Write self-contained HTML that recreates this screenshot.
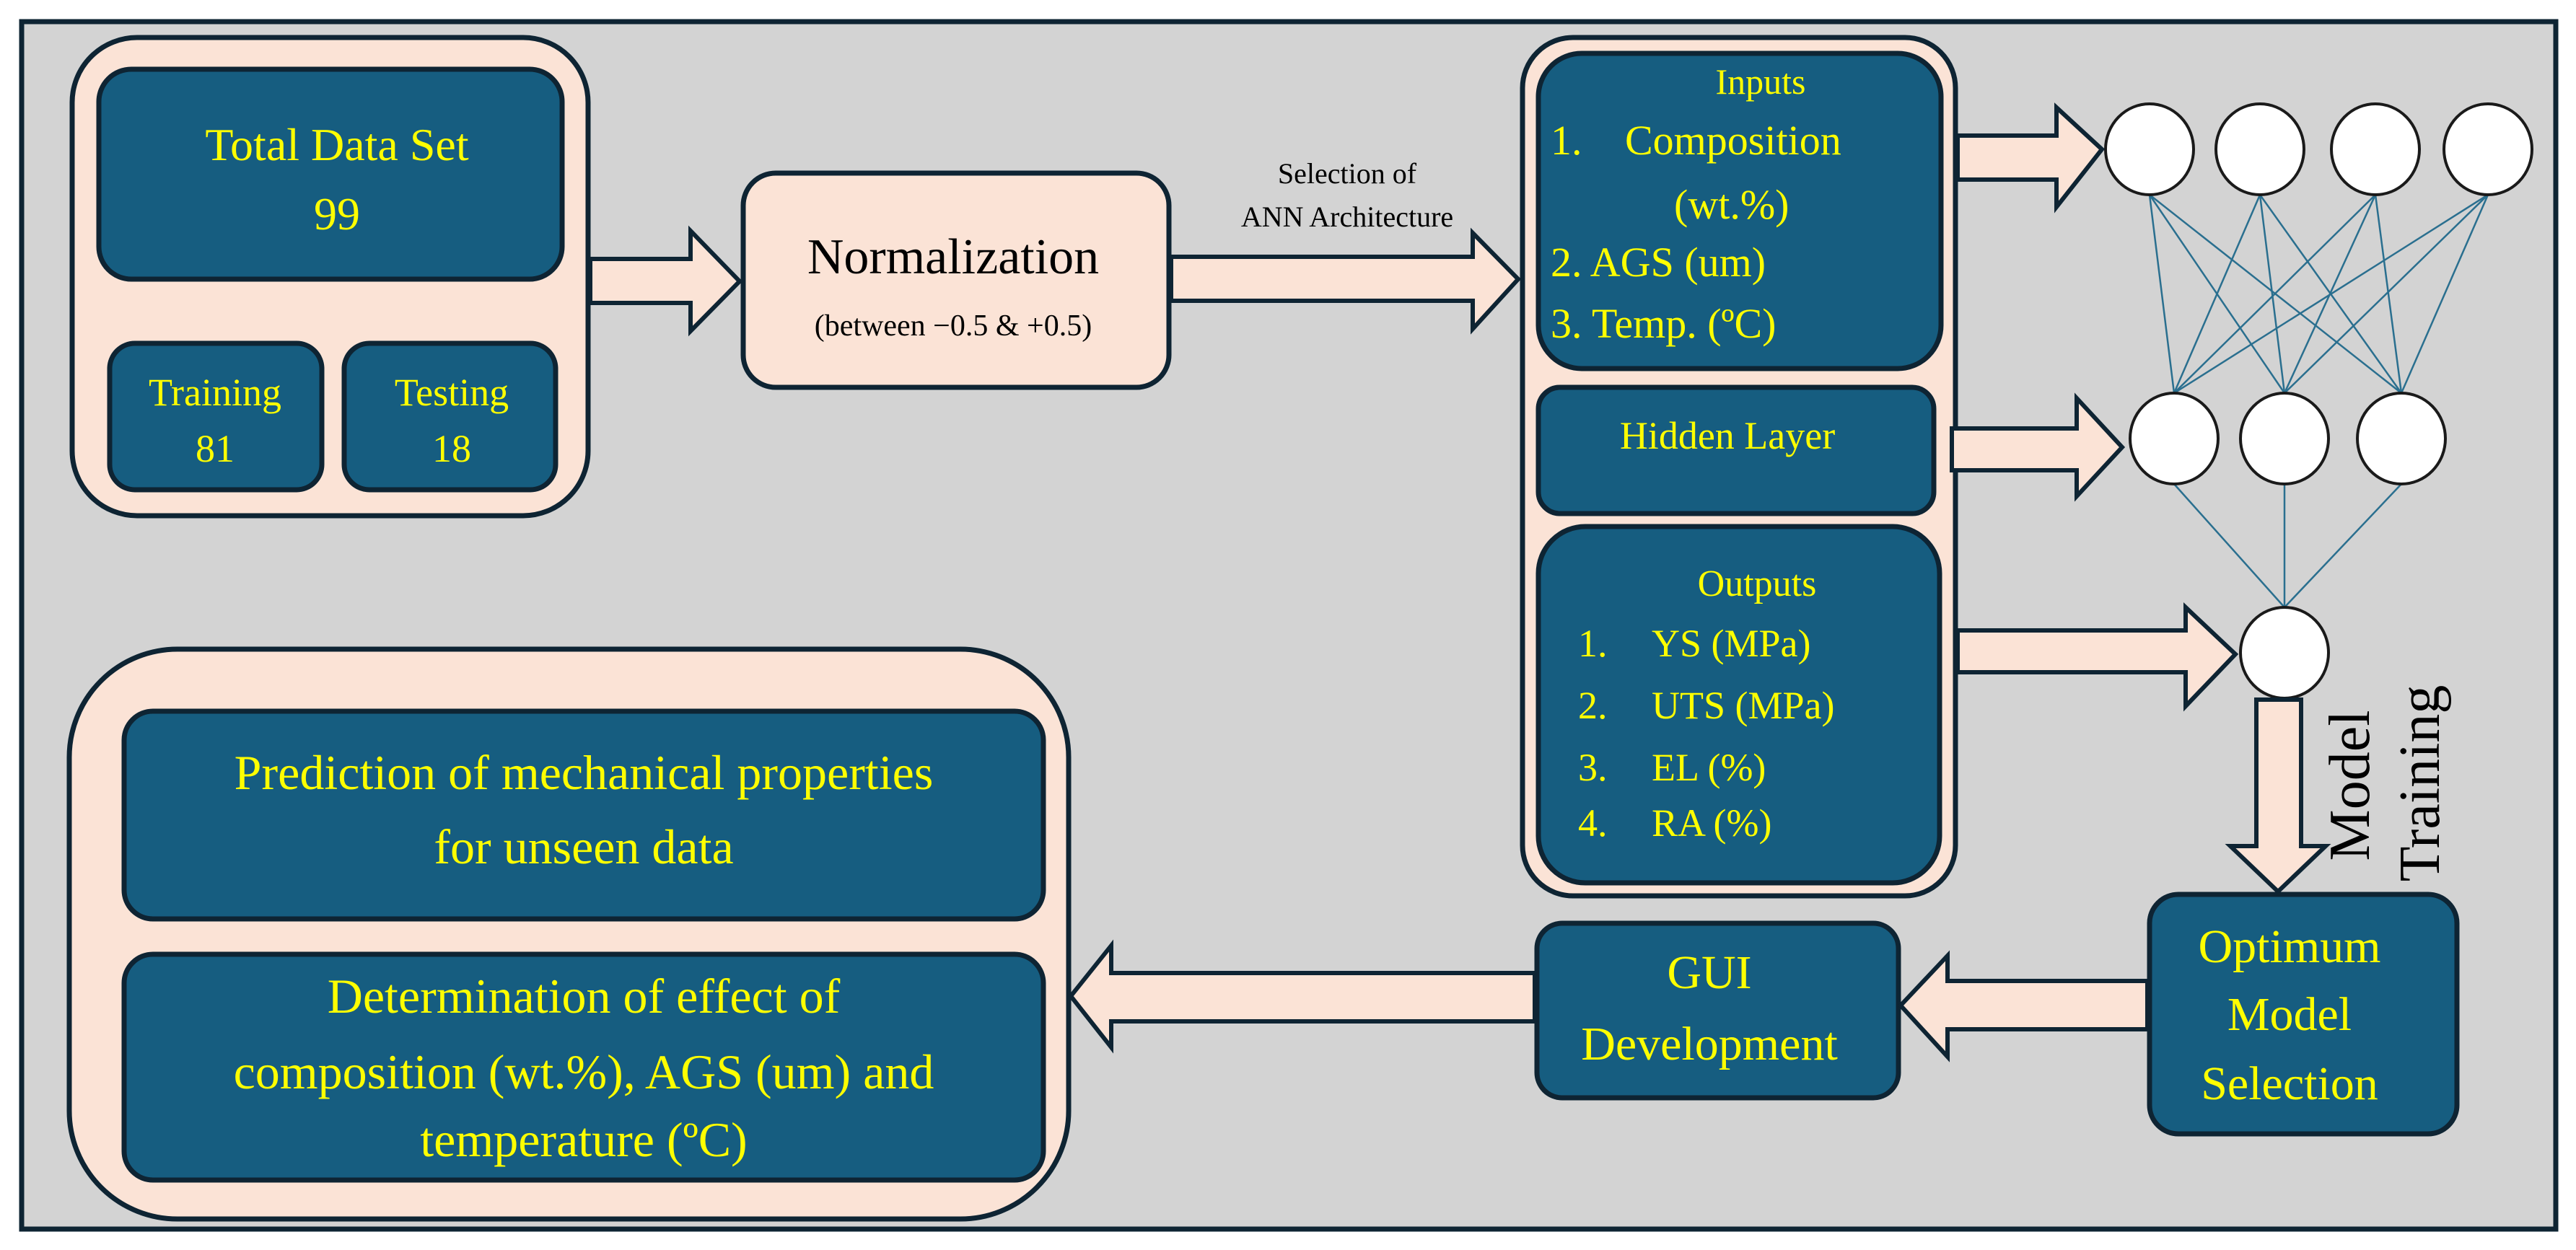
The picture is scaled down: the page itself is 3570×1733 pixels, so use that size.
<!DOCTYPE html>
<html><head><meta charset="utf-8"><style>
html,body{margin:0;padding:0;background:#fff;}
svg{display:block;font-family:"Liberation Serif","DejaVu Serif",serif;}
svg text{font-family:"Liberation Serif","DejaVu Serif",serif;}
.y{fill:#ffff00;}
</style></head><body>
<svg width="3570" height="1733" viewBox="0 0 3570 1733" xmlns="http://www.w3.org/2000/svg" font-family="'Liberation Serif', 'DejaVu Serif', serif">
<rect x="0" y="0" width="3570" height="1733" fill="#fff"/>
<rect x="30" y="30" width="3512" height="1674" fill="#d3d3d3" stroke="#0e2433" stroke-width="7"/>

<g stroke="#0e2433" stroke-width="7">
<rect x="100" y="52" width="715" height="663" rx="90" fill="#fbe3d6"/>
<rect x="137" y="96" width="642" height="291" rx="45" fill="#165d80"/>
<rect x="152" y="476" width="294" height="203" rx="35" fill="#165d80"/>
<rect x="477" y="476" width="293" height="203" rx="35" fill="#165d80"/>
<rect x="1030" y="240" width="590" height="297" rx="45" fill="#fbe3d6"/>
<rect x="2110" y="52" width="600" height="1190" rx="70" fill="#fbe3d6"/>
<rect x="2132" y="74" width="558" height="437" rx="60" fill="#165d80"/>
<rect x="2132" y="537" width="548" height="175" rx="30" fill="#165d80"/>
<rect x="2132" y="730" width="556" height="494" rx="65" fill="#165d80"/>
<rect x="2979" y="1240" width="426" height="332" rx="40" fill="#165d80"/>
<rect x="2130" y="1280" width="501" height="242" rx="35" fill="#165d80"/>
<rect x="96" y="900" width="1385" height="790" rx="150" fill="#fbe3d6"/>
<rect x="172" y="986" width="1274" height="288" rx="40" fill="#165d80"/>
<rect x="172" y="1323" width="1274" height="313" rx="40" fill="#165d80"/>
</g>

<g stroke="#2a6f8f" stroke-width="2.5">
<line x1="2979" y1="270" x2="3013" y2="545"/><line x1="2979" y1="270" x2="3166" y2="545"/><line x1="2979" y1="270" x2="3328" y2="545"/>
<line x1="3132" y1="270" x2="3013" y2="545"/><line x1="3132" y1="270" x2="3166" y2="545"/><line x1="3132" y1="270" x2="3328" y2="545"/>
<line x1="3292" y1="270" x2="3013" y2="545"/><line x1="3292" y1="270" x2="3166" y2="545"/><line x1="3292" y1="270" x2="3328" y2="545"/>
<line x1="3448" y1="270" x2="3013" y2="545"/><line x1="3448" y1="270" x2="3166" y2="545"/><line x1="3448" y1="270" x2="3328" y2="545"/>
<line x1="3013" y1="671" x2="3166" y2="842"/><line x1="3166" y1="671" x2="3166" y2="842"/><line x1="3328" y1="671" x2="3166" y2="842"/>
</g>
<g fill="#fff" stroke="#1a1a1a" stroke-width="4">
<ellipse cx="2979" cy="207" rx="61" ry="63"/><ellipse cx="3132" cy="207" rx="61" ry="63"/>
<ellipse cx="3292" cy="207" rx="61" ry="63"/><ellipse cx="3448" cy="207" rx="61" ry="63"/>
<ellipse cx="3013" cy="608" rx="61" ry="63"/><ellipse cx="3166" cy="608" rx="61" ry="63"/>
<ellipse cx="3328" cy="608" rx="61" ry="63"/>
<ellipse cx="3166" cy="905" rx="61" ry="63"/>
</g>

<g fill="#fbe3d6" stroke="#0e2433" stroke-width="6" stroke-linejoin="miter">
<polygon points="818,359 957,359 957,320 1025,390 957,459 957,420 818,420"/>
<polygon points="1623,356 2041,356 2041,323 2104,387 2041,456 2041,417 1623,417"/>
<polygon points="2713,188 2850,188 2850,149 2913,207 2850,287 2850,249 2713,249"/>
<polygon points="2705,594 2878,594 2878,552 2941,620 2878,688 2878,652 2705,652"/>
<polygon points="2713,874 3029,874 3029,842 3098,907 3029,979 3029,932 2713,932"/>
<polygon points="3127,970 3189,970 3189,1173 3223,1173 3157,1236 3091,1173 3127,1173"/>
<polygon points="2976,1360 2699,1360 2699,1325 2634,1394 2699,1465 2699,1427 2976,1427"/>
<polygon points="2127,1349 1540,1349 1540,1311 1484,1381 1540,1452 1540,1416 2127,1416"/>
</g>

<g class="y" text-anchor="middle" font-family="'Liberation Serif', serif">
<text x="467" y="222" font-size="64">Total Data Set</text>
<text x="467" y="318" font-size="64">99</text>
<text x="298" y="562" font-size="54">Training</text>
<text x="298" y="640" font-size="54">81</text>
<text x="626" y="562" font-size="54">Testing</text>
<text x="626" y="640" font-size="54">18</text>
<text x="2440" y="130" font-size="50">Inputs</text>
<text x="2394" y="622" font-size="54">Hidden Layer</text>
<text x="2435" y="826" font-size="52">Outputs</text>
<text x="809" y="1094" font-size="68">Prediction of mechanical properties</text>
<text x="809" y="1197" font-size="68">for unseen data</text>
<text x="809" y="1404" font-size="68">Determination of effect of</text>
<text x="809" y="1509" font-size="68">composition (wt.%), AGS (um) and</text>
<text x="809" y="1603" font-size="68">temperature (ºC)</text>
<text x="2369" y="1370" font-size="66">GUI</text>
<text x="2369" y="1469" font-size="66">Development</text>
<text x="3173" y="1334" font-size="66">Optimum</text>
<text x="3173" y="1428" font-size="66">Model</text>
<text x="3173" y="1524" font-size="66">Selection</text>
</g>
<g class="y" font-size="58" font-family="'Liberation Serif', serif">
<text x="2149" y="214">1.</text><text x="2252" y="214">Composition</text>
<text x="2320" y="303">(wt.%)</text>
<text x="2149" y="383">2. AGS (um)</text>
<text x="2149" y="468">3. Temp. (ºC)</text>
<text x="2187" y="910" font-size="54">1.</text><text x="2289" y="910" font-size="54">YS (MPa)</text>
<text x="2187" y="996" font-size="54">2.</text><text x="2289" y="996" font-size="54">UTS (MPa)</text>
<text x="2187" y="1082" font-size="54">3.</text><text x="2289" y="1082" font-size="54">EL (%)</text>
<text x="2187" y="1159" font-size="54">4.</text><text x="2289" y="1159" font-size="54">RA (%)</text>
</g>
<g fill="#000" text-anchor="middle" font-family="'Liberation Serif', serif">
<text x="1321" y="379" font-size="70">Normalization</text>
<text x="1321" y="465" font-size="42">(between −0.5 &amp; +0.5)</text>
<text x="1867" y="254" font-size="40">Selection of</text>
<text x="1867" y="314" font-size="40">ANN Architecture</text>
<text transform="translate(3283,1089) rotate(-90)" font-size="80">Model</text>
<text transform="translate(3380,1086) rotate(-90)" font-size="80">Training</text>
</g>
</svg>
</body></html>
